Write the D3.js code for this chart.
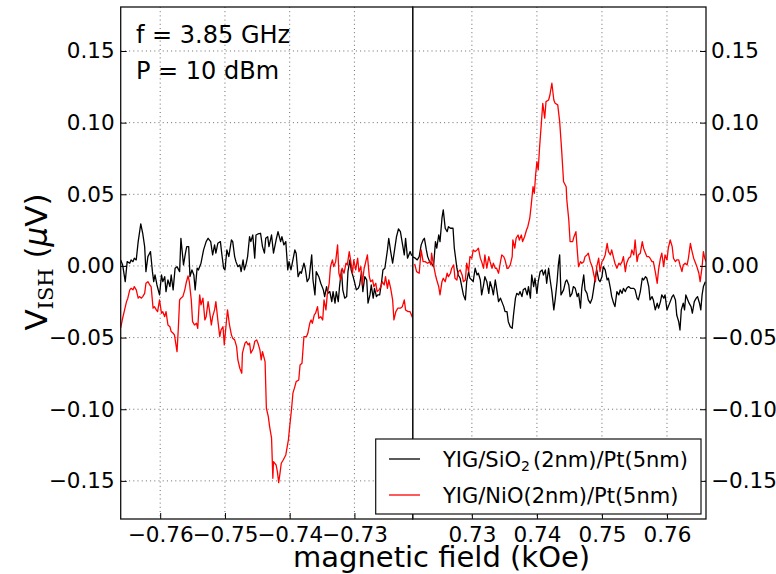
<!DOCTYPE html>
<html><head><meta charset="utf-8">
<script src="https://cdn.jsdelivr.net/npm/d3@7"></script>
<style>
body{margin:0;background:#fff}
text{font-family:"DejaVu Sans",sans-serif}
</style>
</head><body>
<svg id="chart" width="776" height="574"></svg>
<script>
// ---------- data ----------
const leftTicks = [-0.76, -0.75, -0.74, -0.73];
const rightTicks = [0.73, 0.74, 0.75, 0.76];
const yTicks = [-0.15, -0.10, -0.05, 0.00, 0.05, 0.10, 0.15];
const leftDomain = [-0.7661, -0.7210];
const rightDomain = [0.7209, 0.7660];
const yDomain = [-0.1766, 0.1807];
const seriesNames = ["YIG/SiO2(2nm)/Pt(5nm)", "YIG/NiO(2nm)/Pt(5nm)"];
const seriesColors = ["#000000", "#ff0000"];

const sio2LeftField = [-0.7661,-0.7658,-0.7654,-0.7651,-0.7647,-0.7645,-0.7642,-0.7640,-0.7637,-0.7634,
-0.7630,-0.7627,-0.7624,-0.7622,-0.7619,-0.7615,-0.7612,-0.7610,-0.7608,-0.7605,
-0.7601,-0.7598,-0.7596,-0.7593,-0.7591,-0.7588,-0.7585,-0.7583,-0.7580,-0.7577,
-0.7574,-0.7570,-0.7568,-0.7564,-0.7561,-0.7559,-0.7556,-0.7554,-0.7551,-0.7548,
-0.7546,-0.7543,-0.7541,-0.7537,-0.7533,-0.7529,-0.7526,-0.7522,-0.7519,-0.7516,
-0.7514,-0.7511,-0.7507,-0.7505,-0.7502,-0.7500,-0.7497,-0.7494,-0.7490,-0.7488,
-0.7485,-0.7483,-0.7480,-0.7477,-0.7475,-0.7472,-0.7470,-0.7467,-0.7465,-0.7462,
-0.7460,-0.7457,-0.7454,-0.7452,-0.7449,-0.7445,-0.7442,-0.7439,-0.7437,-0.7434,
-0.7432,-0.7428,-0.7425,-0.7421,-0.7418,-0.7414,-0.7412,-0.7409,-0.7406,-0.7403,
-0.7401,-0.7398,-0.7395,-0.7392,-0.7390,-0.7387,-0.7384,-0.7382,-0.7378,-0.7376,
-0.7373,-0.7370,-0.7366,-0.7364,-0.7361,-0.7359,-0.7355,-0.7352,-0.7348,-0.7346,
-0.7343,-0.7341,-0.7338,-0.7335,-0.7333,-0.7330,-0.7328,-0.7325,-0.7323,-0.7320,
-0.7318,-0.7315,-0.7312,-0.7310,-0.7307,-0.7305,-0.7302,-0.7300,-0.7297,-0.7294,
-0.7292,-0.7289,-0.7287,-0.7284,-0.7281,-0.7279,-0.7276,-0.7274,-0.7271,-0.7269,
-0.7266,-0.7264,-0.7261,-0.7258,-0.7256,-0.7253,-0.7249,-0.7247,-0.7244,-0.7241,
-0.7238,-0.7235,-0.7232,-0.7229,-0.7226,-0.7223,-0.7221,-0.7218,-0.7216,-0.7214,
-0.7212,-0.7210];
const sio2LeftV = [0.0042,0.0007,-0.011,0.003,0.0019,0.0042,0.003,0.0054,0.0042,0.017,
0.0293,0.0228,0.0135,-0.004,0.0065,0.01,-0.004,-0.011,-0.0063,-0.0133,
-0.0202,-0.0063,-0.011,-0.0075,-0.0179,-0.0098,-0.0144,-0.0063,-0.0167,-0.0016,
-0.0005,-0.004,0.0193,0.0007,0.0089,0.0135,0.0135,-0.0075,-0.0028,-0.0063,
-0.0167,-0.0016,-0.0028,0.0019,0.0112,0.017,0.0193,0.017,0.0077,0.0147,
0.0089,0.0158,0.017,0.0089,-0.0016,-0.0028,0.0112,0.0065,0.0181,0.017,
0.0065,0.003,-0.0005,0.0007,-0.004,0.0042,-0.0028,0.0019,0.0065,0.0204,
0.017,0.0216,0.0054,0.0216,0.0223,0.0228,0.0135,0.0089,0.0193,0.0204,
0.0135,0.0216,0.0089,0.0181,0.0239,0.017,0.0204,0.0147,0.017,-0.0028,
0.003,-0.0028,0.0042,0.0112,0.0089,-0.0075,-0.004,-0.0051,0.0019,-0.0016,
-0.011,-0.0086,0.0077,-0.0098,-0.0202,-0.004,-0.0075,-0.0121,-0.0167,-0.0214,
-0.0144,-0.0191,-0.0179,-0.0249,-0.0179,-0.026,-0.0179,-0.0249,-0.0144,-0.0028,
-0.0167,-0.0225,-0.0214,-0.004,0.0042,-0.0028,-0.0075,-0.011,-0.0167,-0.0156,
-0.0133,-0.004,-0.0179,-0.0075,-0.0098,-0.026,-0.0202,-0.0133,-0.0225,-0.0156,
-0.0214,-0.0202,-0.0202,-0.011,-0.0028,-0.0016,0.0112,0.0193,0.01,0.0019,
0.0112,0.0204,0.0258,0.0239,0.0158,0.0077,0.0193,0.0054,0.0077,0.01,
0.0077,0.007];

const nioLeftField = [-0.7661,-0.7658,-0.7655,-0.7652,-0.7650,-0.7647,-0.7645,-0.7642,-0.7640,-0.7637,
-0.7634,-0.7632,-0.7629,-0.7627,-0.7624,-0.7622,-0.7619,-0.7616,-0.7614,-0.7611,
-0.7609,-0.7606,-0.7604,-0.7601,-0.7598,-0.7596,-0.7593,-0.7591,-0.7588,-0.7585,
-0.7583,-0.7580,-0.7578,-0.7574,-0.7572,-0.7570,-0.7568,-0.7565,-0.7562,-0.7560,
-0.7557,-0.7555,-0.7552,-0.7550,-0.7547,-0.7544,-0.7542,-0.7539,-0.7537,-0.7534,
-0.7531,-0.7529,-0.7526,-0.7524,-0.7521,-0.7519,-0.7516,-0.7514,-0.7511,-0.7508,
-0.7506,-0.7503,-0.7501,-0.7498,-0.7496,-0.7493,-0.7490,-0.7488,-0.7485,-0.7482,
-0.7480,-0.7477,-0.7474,-0.7473,-0.7469,-0.7467,-0.7464,-0.7462,-0.7460,-0.7456,
-0.7454,-0.7451,-0.7449,-0.7446,-0.7444,-0.7442,-0.7438,-0.7436,-0.7433,-0.7431,
-0.7428,-0.7426,-0.7425,-0.7421,-0.7419,-0.7417,-0.7415,-0.7413,-0.7410,-0.7406,
-0.7402,-0.7400,-0.7397,-0.7395,-0.7392,-0.7390,-0.7386,-0.7384,-0.7381,-0.7378,
-0.7374,-0.7372,-0.7369,-0.7367,-0.7365,-0.7362,-0.7360,-0.7357,-0.7355,-0.7352,
-0.7349,-0.7347,-0.7344,-0.7342,-0.7339,-0.7337,-0.7334,-0.7332,-0.7329,-0.7326,
-0.7324,-0.7321,-0.7319,-0.7316,-0.7313,-0.7311,-0.7308,-0.7306,-0.7303,-0.7301,
-0.7298,-0.7295,-0.7293,-0.7290,-0.7288,-0.7285,-0.7283,-0.7280,-0.7277,-0.7275,
-0.7272,-0.7270,-0.7267,-0.7265,-0.7262,-0.7259,-0.7257,-0.7254,-0.7252,-0.7249,
-0.7247,-0.7244,-0.7241,-0.7239,-0.7236,-0.7233,-0.7229,-0.7226,-0.7223,-0.7221,
-0.7217,-0.7214,-0.7210];
const nioLeftV = [-0.0433,-0.0365,-0.0307,-0.0249,-0.0225,-0.0167,-0.0156,-0.0167,-0.0144,-0.0167,
-0.0225,-0.0214,-0.0225,-0.0214,-0.0191,-0.0121,-0.011,-0.0133,-0.0144,-0.0295,
-0.0284,-0.0307,-0.0319,-0.0237,-0.033,-0.0319,-0.0354,-0.0319,-0.0412,-0.0424,
-0.0458,-0.047,-0.0481,-0.0598,-0.0435,-0.0237,-0.0225,-0.0214,-0.0167,-0.0121,
-0.007,-0.011,-0.0237,-0.0389,-0.0412,-0.04,-0.0435,-0.0202,-0.0272,-0.0225,
-0.0377,-0.0354,-0.0249,-0.0307,-0.0412,-0.0354,-0.0307,-0.0249,-0.0377,-0.0493,
-0.0447,-0.0424,-0.0551,-0.04,-0.0307,-0.0412,-0.0481,-0.0505,-0.0516,-0.0563,
-0.0656,-0.0714,-0.0749,-0.0609,-0.0539,-0.0528,-0.0551,-0.0539,-0.0609,-0.0574,
-0.0528,-0.0516,-0.0539,-0.0586,-0.0656,-0.0598,-0.0668,-0.0993,-0.1052,-0.1121,
-0.1202,-0.1482,-0.1366,-0.1389,-0.1435,-0.1512,-0.1447,-0.1377,-0.1354,-0.1319,
-0.1214,-0.1121,-0.0993,-0.0888,-0.0842,-0.0807,-0.0796,-0.0691,-0.0679,-0.0493,
-0.0493,-0.047,-0.04,-0.0377,-0.04,-0.0342,-0.033,-0.0284,-0.0365,-0.0354,
-0.0377,-0.0237,-0.0307,-0.0202,-0.0121,-0.0005,0.0042,-0.0005,0.003,0.0147,
-0.0051,-0.0098,-0.0016,-0.0051,0.0019,0.0007,0.01,0.0042,-0.0051,0.0042,
-0.0028,0.0054,-0.004,-0.0005,-0.0133,-0.0016,0.0019,0.0077,-0.0075,-0.011,
-0.0098,-0.0144,-0.0121,-0.0179,-0.0167,-0.0144,-0.011,-0.0133,-0.0075,-0.0156,
-0.0098,-0.0156,-0.0237,-0.0377,-0.0319,-0.0295,-0.0295,-0.0284,-0.0237,-0.0307,
-0.0319,-0.0319,-0.0363];

const sio2RightField = [0.7209,0.7213,0.7216,0.7219,0.7222,0.7225,0.7227,0.7230,0.7232,0.7235,
0.7238,0.7241,0.7244,0.7246,0.7249,0.7251,0.7254,0.7256,0.7259,0.7262,
0.7264,0.7267,0.7271,0.7273,0.7277,0.7279,0.7282,0.7285,0.7287,0.7290,
0.7292,0.7295,0.7297,0.7300,0.7302,0.7305,0.7308,0.7310,0.7313,0.7315,
0.7318,0.7320,0.7323,0.7326,0.7328,0.7331,0.7333,0.7336,0.7338,0.7341,
0.7344,0.7346,0.7349,0.7351,0.7354,0.7356,0.7359,0.7362,0.7364,0.7367,
0.7369,0.7372,0.7374,0.7377,0.7379,0.7382,0.7385,0.7387,0.7390,0.7392,
0.7395,0.7397,0.7400,0.7402,0.7405,0.7408,0.7410,0.7413,0.7415,0.7418,
0.7420,0.7423,0.7426,0.7428,0.7431,0.7433,0.7435,0.7437,0.7441,0.7444,
0.7446,0.7449,0.7451,0.7454,0.7456,0.7459,0.7462,0.7464,0.7467,0.7469,
0.7472,0.7474,0.7477,0.7479,0.7482,0.7485,0.7487,0.7490,0.7492,0.7495,
0.7497,0.7500,0.7502,0.7505,0.7508,0.7510,0.7513,0.7515,0.7518,0.7520,
0.7523,0.7526,0.7528,0.7531,0.7533,0.7536,0.7538,0.7541,0.7544,0.7546,
0.7549,0.7551,0.7554,0.7556,0.7559,0.7562,0.7564,0.7567,0.7569,0.7572,
0.7574,0.7577,0.7579,0.7582,0.7585,0.7587,0.7590,0.7592,0.7595,0.7597,
0.7600,0.7602,0.7605,0.7608,0.7610,0.7613,0.7615,0.7618,0.7620,0.7622,
0.7625,0.7627,0.7629,0.7632,0.7634,0.7637,0.7639,0.7642,0.7645,0.7647,
0.7650,0.7652,0.7654,0.7656,0.7659];
const sio2RightV = [0.0063,0.0054,0.0042,0.0065,0.0147,0.0181,0.0193,0.0112,0.0065,0.003,
0.0019,-0.0005,0.017,0.0124,0.0216,0.017,0.0333,0.0391,0.0263,0.0239,
0.0274,0.0263,0.0263,0.0124,-0.0016,-0.0063,-0.0086,-0.0156,-0.0202,-0.0237,
-0.011,-0.004,-0.0086,-0.0098,-0.011,-0.0016,-0.0063,-0.0051,-0.0098,-0.0202,
-0.0133,-0.0075,-0.011,-0.0191,-0.011,-0.0156,-0.0202,-0.0098,-0.0156,-0.0249,
-0.0225,-0.0249,-0.0284,-0.0319,-0.0319,-0.0389,-0.0424,-0.0435,-0.0342,-0.0225,
-0.0191,-0.0202,-0.0179,-0.0214,-0.0167,-0.0156,-0.0202,-0.0144,-0.0225,-0.0063,
-0.0144,-0.0086,-0.0191,-0.011,-0.004,-0.0028,-0.0063,-0.0028,-0.0121,-0.0016,
-0.0086,-0.0179,-0.0307,-0.0237,-0.011,0.0007,0.0077,-0.0202,-0.0167,-0.011,
-0.0098,-0.0133,-0.0214,-0.0191,-0.0144,-0.0156,-0.0214,-0.0191,-0.0295,-0.0156,
-0.0063,-0.0167,-0.0191,-0.0237,-0.026,-0.0225,-0.0167,-0.0075,-0.0028,-0.0098,
-0.011,-0.0075,-0.0005,-0.0028,-0.0098,-0.0086,-0.0156,-0.0214,-0.026,-0.0284,
-0.0179,-0.0202,-0.0167,-0.0191,-0.0156,-0.0179,-0.0156,-0.0144,-0.0156,-0.0156,
-0.0156,-0.0167,-0.0225,-0.0237,-0.0179,-0.0086,-0.0098,-0.0075,-0.0086,-0.0144,
-0.0237,-0.0214,-0.0237,-0.0307,-0.026,-0.0295,-0.0249,-0.0202,-0.0225,-0.0202,
-0.0307,-0.0284,-0.0249,-0.0214,-0.0202,-0.0237,-0.0342,-0.0389,-0.0447,-0.0307,
-0.026,-0.0307,-0.0202,-0.0237,-0.026,-0.0284,-0.033,-0.0249,-0.0225,-0.0214,
-0.026,-0.0307,-0.0202,-0.0144,-0.011];

const nioRightField = [0.7212,0.7215,0.7219,0.7222,0.7225,0.7228,0.7232,0.7235,0.7237,0.7238,
0.7241,0.7244,0.7246,0.7249,0.7251,0.7254,0.7256,0.7259,0.7262,0.7264,
0.7267,0.7269,0.7272,0.7274,0.7277,0.7279,0.7282,0.7285,0.7287,0.7290,
0.7292,0.7295,0.7297,0.7300,0.7302,0.7305,0.7308,0.7310,0.7313,0.7315,
0.7318,0.7320,0.7323,0.7326,0.7328,0.7331,0.7333,0.7336,0.7338,0.7341,
0.7344,0.7346,0.7349,0.7351,0.7354,0.7356,0.7359,0.7362,0.7363,0.7366,
0.7368,0.7371,0.7373,0.7376,0.7378,0.7381,0.7384,0.7386,0.7389,0.7391,
0.7394,0.7396,0.7398,0.7400,0.7402,0.7404,0.7407,0.7409,0.7412,0.7414,
0.7418,0.7420,0.7423,0.7426,0.7428,0.7432,0.7435,0.7438,0.7441,0.7445,
0.7446,0.7449,0.7451,0.7455,0.7457,0.7460,0.7462,0.7464,0.7467,0.7469,
0.7472,0.7474,0.7477,0.7479,0.7482,0.7485,0.7487,0.7490,0.7492,0.7495,
0.7497,0.7500,0.7502,0.7505,0.7508,0.7510,0.7513,0.7515,0.7518,0.7520,
0.7523,0.7526,0.7528,0.7531,0.7533,0.7536,0.7538,0.7541,0.7544,0.7546,
0.7549,0.7551,0.7554,0.7556,0.7559,0.7562,0.7564,0.7567,0.7569,0.7572,
0.7574,0.7577,0.7579,0.7582,0.7585,0.7587,0.7590,0.7592,0.7595,0.7597,
0.7600,0.7602,0.7605,0.7608,0.7610,0.7613,0.7615,0.7618,0.7620,0.7623,
0.7625,0.7628,0.7631,0.7633,0.7636,0.7638,0.7641,0.7644,0.7646,0.7649,
0.7651,0.7654,0.7656,0.7658,0.7660];
const nioRightV = [0.0014,-0.004,-0.0051,0.0112,0.003,0.003,0.0019,0.003,0.0007,0.0089,
0.0007,-0.0063,-0.0098,-0.0144,-0.0202,-0.011,-0.0086,-0.011,-0.0051,-0.0075,
-0.0051,-0.0016,0.0007,-0.0086,-0.0098,-0.004,-0.0028,-0.0063,-0.011,-0.0098,
0.0019,-0.004,0.0065,0.0054,0.0112,0.01,0.0112,0.0124,0.0054,0.003,
-0.0016,0.0077,-0.0016,0.0065,0.003,-0.0016,0.0019,-0.0016,-0.0016,-0.0051,
0.003,0.0077,0.0065,0.0042,-0.0016,-0.0016,0.0007,0.0065,0.0181,0.0124,
0.0193,0.0216,0.0181,0.0216,0.017,0.0204,0.0251,0.0274,0.0333,0.0414,
0.0553,0.0507,0.0635,0.0728,0.067,0.0821,0.1007,0.1135,0.1031,0.1147,
0.1158,0.1193,0.1275,0.1158,0.1135,0.1124,0.1007,0.081,0.0588,0.0553,
0.0461,0.0321,0.017,0.017,0.0204,0.0239,0.0112,-0.0005,0.003,0.0019,
0.003,0.0065,0.0077,0.0089,0.003,-0.0005,-0.0051,-0.011,-0.0005,0.0054,
-0.004,0.003,0.0042,0.0077,0.0158,0.01,0.0077,0.0112,0.0054,0.0019,
-0.0016,0.0019,0.0007,0.003,0.0065,-0.004,0.0019,0.0054,0.0065,0.0112,
0.0077,0.0181,0.003,0.0077,0.0089,0.017,0.0124,0.0089,0.0065,0.0065,
0.0054,0.003,0.003,-0.004,-0.0121,-0.0028,0.0054,0.0089,-0.0005,0.0077,
0.0042,0.0124,0.0181,0.0135,0.0054,0.003,0.0042,0.0042,0.0007,-0.004,
0.0007,0.0019,0.0007,0.0054,0.0158,0.0112,0.0054,0.0019,-0.0005,-0.0051,
-0.011,-0.0005,0.01,0.0054,0.003];

// ---------- layout ----------
const L = 120.7, M = 412.7, R = 706, T = 7, B = 519;
const svg = d3.select("#chart");
const xL = d3.scaleLinear().domain(leftDomain).range([L, M]);
const xR = d3.scaleLinear().domain(rightDomain).range([M, R]);
const y = d3.scaleLinear().domain(yDomain).range([B, T]);

const defs = svg.append("defs");
defs.append("clipPath").attr("id","clipL").append("rect").attr("x",L).attr("y",T).attr("width",M-L).attr("height",B-T);
defs.append("clipPath").attr("id","clipR").append("rect").attr("x",M).attr("y",T).attr("width",R-M).attr("height",B-T);

// grid
const grid = svg.append("g").attr("stroke","#444").attr("stroke-width",0.8).attr("stroke-dasharray","1,3.2").attr("fill","none");
yTicks.forEach(v => grid.append("line").attr("x1",L).attr("x2",R).attr("y1",y(v)).attr("y2",y(v)));
leftTicks.forEach(v => grid.append("line").attr("x1",xL(v)).attr("x2",xL(v)).attr("y1",T).attr("y2",B));
rightTicks.forEach(v => grid.append("line").attr("x1",xR(v)).attr("x2",xR(v)).attr("y1",T).attr("y2",B));

// lines
function pairs(xs, ys){ const n = Math.min(xs.length, ys.length); return d3.range(n).map(i => [xs[i], ys[i]]); }
const lineL = d3.line().x(d => xL(d[0])).y(d => y(d[1]));
const lineR = d3.line().x(d => xR(d[0])).y(d => y(d[1]));
const gL = svg.append("g").attr("clip-path","url(#clipL)").attr("fill","none").attr("stroke-width",1.3).attr("stroke-linejoin","round");
const gR = svg.append("g").attr("clip-path","url(#clipR)").attr("fill","none").attr("stroke-width",1.3).attr("stroke-linejoin","round");
gL.append("path").attr("d", lineL(pairs(sio2LeftField, sio2LeftV))).attr("stroke", seriesColors[0]);
gL.append("path").attr("d", lineL(pairs(nioLeftField, nioLeftV))).attr("stroke", seriesColors[1]);
gR.append("path").attr("d", lineR(pairs(sio2RightField, sio2RightV))).attr("stroke", seriesColors[0]);
gR.append("path").attr("d", lineR(pairs(nioRightField, nioRightV))).attr("stroke", seriesColors[1]);

// axes
const fmtY = d3.format(".2f");
const fmtX = d3.format(".2f");
const axL = svg.append("g").attr("transform",`translate(${L},0)`)
  .call(d3.axisLeft(y).tickValues(yTicks).tickFormat(fmtY).tickSize(-6).tickPadding(6));
const axR = svg.append("g").attr("transform",`translate(${R},0)`)
  .call(d3.axisRight(y).tickValues(yTicks).tickFormat(fmtY).tickSize(-6).tickPadding(5));
const axBL = svg.append("g").attr("transform",`translate(0,${B})`)
  .call(d3.axisBottom(xL).tickValues(leftTicks).tickFormat(fmtX).tickSize(-6).tickPadding(7.5));
const axBR = svg.append("g").attr("transform",`translate(0,${B})`)
  .call(d3.axisBottom(xR).tickValues(rightTicks).tickFormat(fmtX).tickSize(-6).tickPadding(7.5));
[axL, axR, axBL, axBR].forEach(a => {
  a.select(".domain").remove();
  a.selectAll("text").attr("font-family","DejaVu Sans").attr("font-size",21.5).attr("fill","#000");
  a.selectAll("line").attr("stroke","#000").attr("stroke-width",1);
});

// frames
svg.append("rect").attr("x",L).attr("y",T).attr("width",M-L).attr("height",B-T).attr("fill","none").attr("stroke","#111").attr("stroke-width",1.3);
svg.append("rect").attr("x",M).attr("y",T).attr("width",R-M).attr("height",B-T).attr("fill","none").attr("stroke","#111").attr("stroke-width",1.3);

// annotations
svg.append("text").attr("x",136).attr("y",43).attr("font-size",24).text("f = 3.85 GHz");
svg.append("text").attr("x",136).attr("y",78.5).attr("font-size",24).text("P = 10 dBm");

// axis labels
svg.append("text").attr("x",293).attr("y",567).attr("font-size",29).text("magnetic field (kOe)");
const yl = svg.append("text").attr("transform","translate(47,262) rotate(-90)").attr("text-anchor","middle").attr("font-size",31);
yl.append("tspan").text("V");
yl.append("tspan").attr("font-family","DejaVu Serif").attr("font-size",21).attr("dy",6).text("ISH");
yl.append("tspan").attr("dy",-6).text(" (");
yl.append("tspan").attr("font-style","italic").text("μ");
yl.append("tspan").text("V)");

// legend
const lg = svg.append("g");
lg.append("rect").attr("x",375.7).attr("y",439).attr("width",325.3).attr("height",75).attr("fill","#fff").attr("stroke","#111").attr("stroke-width",1.2);
const rows = [459, 495];
rows.forEach((ry, i) => {
  lg.append("line").attr("x1",389).attr("x2",420).attr("y1",ry).attr("y2",ry).attr("stroke",seriesColors[i]).attr("stroke-width",1.3);
});
const t1 = lg.append("text").attr("x",443).attr("y",466.5).attr("font-size",21);
t1.append("tspan").text("YIG/SiO");
t1.append("tspan").attr("font-size",14).attr("dy",4).text("2");
t1.append("tspan").attr("dy",-4).attr("dx",3).text("(2nm)/Pt(5nm)");
lg.append("text").attr("x",443).attr("y",502.5).attr("font-size",21).text(seriesNames[1]);
</script>
</body></html>
